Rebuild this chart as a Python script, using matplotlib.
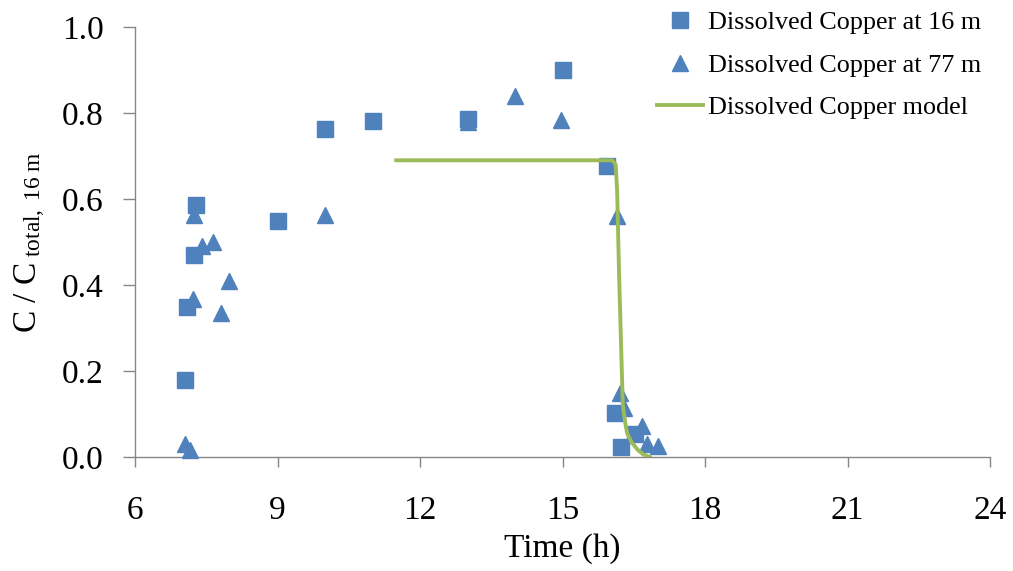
import matplotlib
matplotlib.use("Agg")
import matplotlib.pyplot as plt

plt.rcParams['font.family'] = ['Liberation Serif', 'DejaVu Serif']
plt.rcParams['mathtext.fontset'] = 'custom'
plt.rcParams['mathtext.rm'] = 'Liberation Serif'
plt.rcParams['mathtext.it'] = 'Liberation Serif:italic'

# Measured dissolved copper, 16 m depth
t16 = [7.05, 7.09, 7.24, 7.28, 9.0, 10.0, 11.0, 13.0, 15.0, 15.94, 16.1, 16.23, 16.53]
c16 = [0.18, 0.35, 0.47, 0.585, 0.548, 0.763, 0.782, 0.786, 0.9, 0.677, 0.102, 0.023, 0.053]

# Measured dissolved copper, 77 m depth
t77 = [7.05, 7.16, 7.22, 7.24, 7.41, 7.64, 7.81, 7.98, 10.0, 13.0, 14.0, 14.97,
       16.15, 16.21, 16.3, 16.67, 16.78, 17.0]
c77 = [0.03, 0.016, 0.367, 0.563, 0.49, 0.5, 0.335, 0.41, 0.563, 0.78, 0.84, 0.784,
       0.56, 0.149, 0.114, 0.072, 0.03, 0.026]

# Model curve
t_model = [11.5, 16.05, 16.12, 16.15, 16.19, 16.25, 16.27, 16.32, 16.36, 16.45, 16.59, 16.7, 16.84]
c_model = [0.69, 0.69, 0.68, 0.62, 0.43, 0.195, 0.12, 0.08, 0.056, 0.035, 0.016, 0.006, 0.0]

x_ticks = [6, 9, 12, 15, 18, 21, 24]
y_ticks = [0.0, 0.2, 0.4, 0.6, 0.8, 1.0]

blue = '#4F81BD'
green = '#9BBB59'
axis_gray = '#868686'

W, H = 1013, 571
fig = plt.figure(figsize=(W / 100, H / 100), dpi=100)
ax = fig.add_axes([135 / W, 114 / H, 855 / W, 430 / H])

ax.plot(t16, c16, linestyle='none', marker='s', markersize=11.5, color=blue,
        label='Dissolved Copper at 16 m', clip_on=False, zorder=3)
ax.plot(t77, c77, linestyle='none', marker='^', markersize=12, color=blue,
        label='Dissolved Copper at 77 m', clip_on=False, zorder=3)
ax.plot(t_model, c_model, color=green, linewidth=2.8,
        label='Dissolved Copper model', zorder=4)

ax.set_xlim(6, 24)
ax.set_ylim(0, 1.0)
ax.set_xticks(x_ticks)
ax.set_yticks(y_ticks)
ax.set_yticklabels([f'{v:.1f}' for v in y_ticks])

for s in ['top', 'right']:
    ax.spines[s].set_visible(False)
for s in ['left', 'bottom']:
    ax.spines[s].set_color(axis_gray)
    ax.spines[s].set_linewidth(1.0)
ax.tick_params(axis='both', direction='out', width=1.0, color=axis_gray, labelsize=24)
ax.tick_params(axis='x', length=7, pad=21)
ax.tick_params(axis='y', length=8.5, pad=14)

ax.set_xlabel('Time (h)', fontsize=24, labelpad=5)
ax.set_ylabel(r'C / C$_{\mathrm{\ total,\ 16\ m}}$', fontsize=24, labelpad=10)

leg = ax.legend(loc='upper left', bbox_to_anchor=(657 / W, 1 - 11 / H),
                bbox_transform=fig.transFigure, frameon=False,
                fontsize=18.8, handlelength=1.75, handletextpad=0.2,
                labelspacing=0.74, borderpad=0, borderaxespad=0)

fig.savefig('out.png', dpi=100)
